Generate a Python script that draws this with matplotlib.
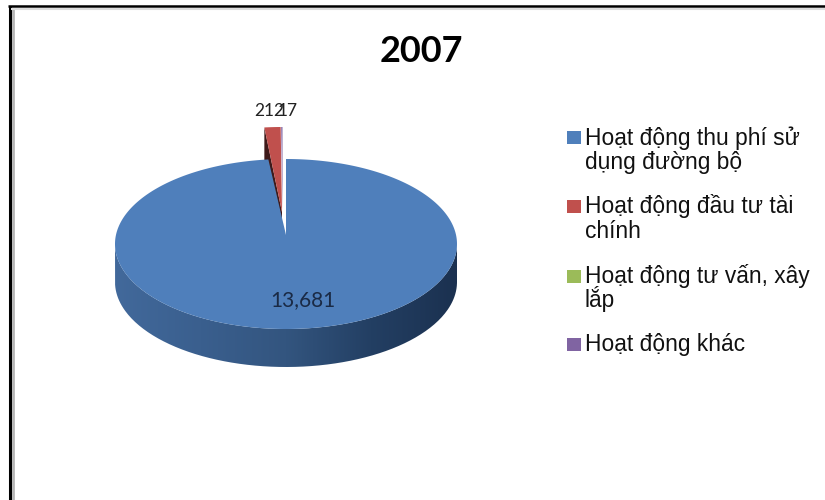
import numpy as np
import matplotlib
matplotlib.use("Agg")
import matplotlib.pyplot as plt
from matplotlib.colors import LinearSegmentedColormap
from matplotlib.patches import Polygon, Rectangle
from matplotlib.path import Path
from matplotlib.patches import PathPatch

title = "2007"
values = [13681, 212, 0, 17]
labels = ["13,681", "212", "", "17"]
colors = ["#4F7FBB", "#C0504D", "#9BBB59", "#8064A2"]
legend_lines = [
    ["Hoạt động thu phí sử", "dụng đường bộ"],
    ["Hoạt động đầu tư tài", "chính"],
    ["Hoạt động tư vấn, xây", "lắp"],
    ["Hoạt động khác"],
]
legend_y = [137.5, 206.5, 276, 344.5]

# pie is drawn in pixel coordinates, y going down
rx, ry, depth = 171, 85, 38
centers = [(286, 244), (282, 212), (282, 212), (282.5, 212)]
dark_red = "#3F1A1A"

fig = plt.figure(figsize=(8.25, 5), dpi=100)
ax = fig.add_axes([0, 0, 1, 1])
ax.set_xlim(0, 825)
ax.set_ylim(500, 0)
ax.axis("off")


def ellipse_pts(cx, cy, a0, a1, n=200):
    # angles are clockwise from 12 o'clock, in degrees
    t = np.radians(np.linspace(a0, a1, n))
    return np.column_stack([cx + rx * np.sin(t), cy - ry * np.cos(t)])


angles = np.cumsum([0] + values) / sum(values) * 360

# small slices go first so the big one overlaps them
for i in [1, 2, 3]:
    if values[i] == 0:
        continue
    cx, cy = centers[i]
    arc = ellipse_pts(cx, cy, angles[i], angles[i + 1], 30)
    if i == 1:
        tip = np.array([cx, cy])
        edge = arc[0]
        wall = [tip, edge, edge + [0, depth], tip + [0, depth]]
        ax.add_patch(Polygon(wall, fc=dark_red, ec="none", zorder=2))
    ax.add_patch(Polygon(np.vstack([[cx, cy], arc]), fc=colors[i], ec="none", zorder=3))

# blue slice, rim first with a left to right shading
cx, cy = centers[0]
front = ellipse_pts(cx, cy, 90, 270)
rim = np.vstack([front, front[::-1] + [0, depth]])
rim_cmap = LinearSegmentedColormap.from_list("rim", ["#42699B", "#3A5F8E", "#33557F", "#233F63", "#1B3150"])
im = ax.imshow(np.linspace(0, 1, 256).reshape(1, -1), cmap=rim_cmap, aspect="auto",
               extent=(cx - rx, cx + rx, cy + ry + depth, cy), zorder=4)
clip = PathPatch(Path(rim), transform=ax.transData, fc="none", ec="none")
ax.add_patch(clip)
im.set_clip_path(clip)
ax.set_xlim(0, 825)
ax.set_ylim(500, 0)

top = ellipse_pts(cx, cy, angles[0], angles[1], 400)
ax.add_patch(Polygon(np.vstack([[cx, cy - 9], top]), fc=colors[0], ec="none", zorder=5))

# data labels
ax.text(303, 300, labels[0], fontsize=15, family="Lato", color="#1A2A45", ha="center", va="center", zorder=6)
ax.text(269.5, 111, labels[1], fontsize=12.5, family="Lato", color="#222222", ha="center", va="center", zorder=6)
ax.text(288, 111, labels[3], fontsize=12.5, family="Lato", color="#222222", ha="center", va="center", zorder=6)

ax.text(421, 52, title, fontsize=26, family="Lato", fontweight="bold", color="black", ha="center", va="center")

# legend
for lines, y, c in zip(legend_lines, legend_y, colors):
    ax.add_patch(Rectangle((567, y - 6.5), 13.5, 13, fc=c, ec="none"))
    for j, line in enumerate(lines):
        ax.text(585, y + 7 + j * 24.5, line, fontsize=16.4, family="Liberation Sans", color="#111111", ha="left", va="baseline")

# outer frame of the slide
ax.plot([9.5, 9.5], [500, 6], color="black", lw=2.2, solid_capstyle="butt")
ax.plot([8, 825], [6.2, 6.2], color="black", lw=1.8, solid_capstyle="butt")
ax.plot([12.5, 12.5], [500, 8], color="#B5B5B5", lw=2, solid_capstyle="butt")
ax.plot([11, 825], [8.5, 8.5], color="#DDDDDD", lw=1.5, solid_capstyle="butt")

fig.savefig("out.png", dpi=100)
